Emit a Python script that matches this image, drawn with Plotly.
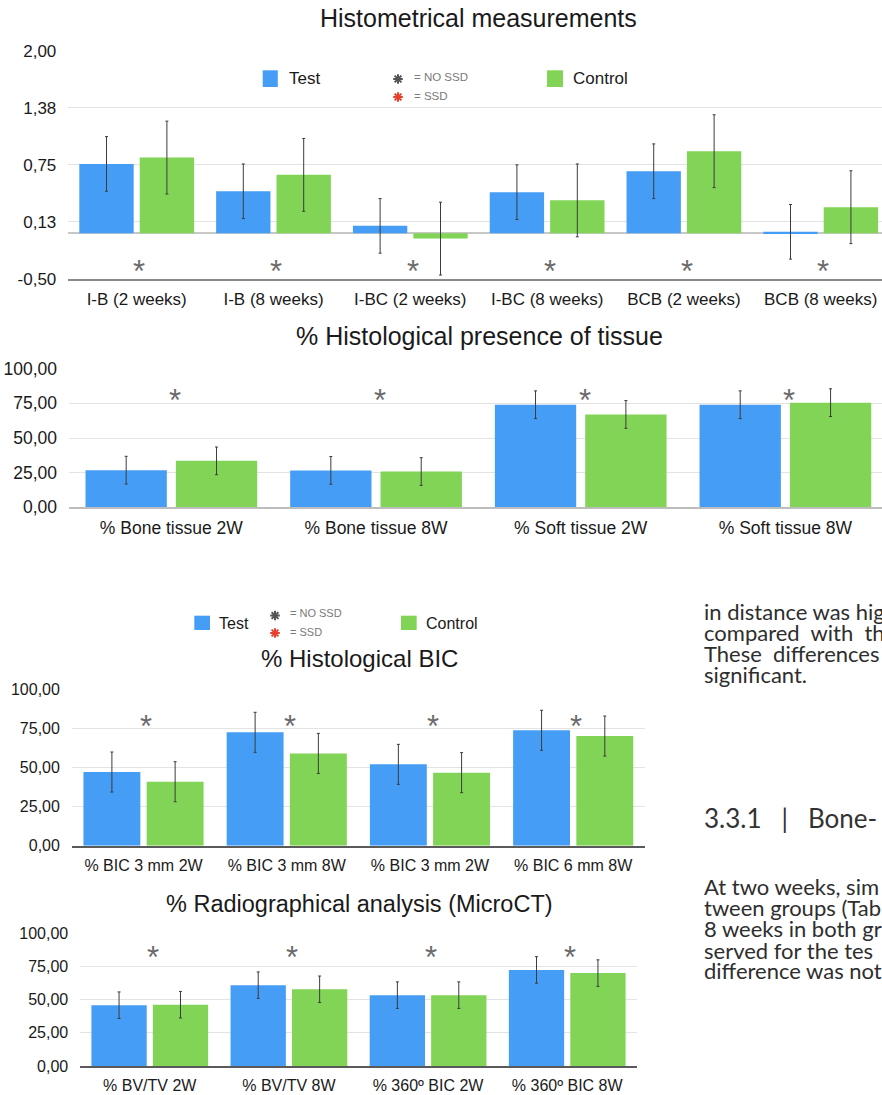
import plotly.graph_objects as go

W, H = 882, 1095

# ---------------- data ----------------
cats1 = ["I-B (2 weeks)", "I-B (8 weeks)", "I-BC (2 weeks)", "I-BC (8 weeks)", "BCB (2 weeks)", "BCB (8 weeks)"]
test1 = [0.76, 0.46, 0.08, 0.45, 0.68, 0.015]
ctrl1 = [0.83, 0.64, -0.06, 0.36, 0.90, 0.285]
test1_err = [0.30, 0.30, 0.30, 0.30, 0.30, 0.30]
ctrl1_err = [0.40, 0.40, 0.40, 0.40, 0.40, 0.40]
ticks1 = [-0.5, 0.125, 0.75, 1.375, 2.0]
ticktext1 = ["-0,50", "0,13", "0,75", "1,38", "2,00"]

cats2 = ["% Bone tissue 2W", "% Bone tissue 8W", "% Soft tissue 2W", "% Soft tissue 8W"]
test2 = [26.8, 26.6, 74.0, 74.0]
ctrl2 = [33.5, 25.8, 67.0, 75.5]
test2_err = [10, 10, 10, 10]
ctrl2_err = [10, 10, 10, 10]

cats3 = ["% BIC 3 mm 2W", "% BIC 3 mm 8W", "% BIC 3 mm 2W", "% BIC 6 mm 8W"]
test3 = [47.1, 72.5, 52.0, 73.8]
ctrl3 = [40.9, 59.0, 46.7, 70.1]
test3_err = [12.8, 12.8, 12.8, 12.8]
ctrl3_err = [12.8, 12.8, 12.8, 12.8]

cats4 = ["% BV/TV 2W", "% BV/TV 8W", "% 360\u00ba BIC 2W", "% 360\u00ba BIC 8W"]
test4 = [45.8, 60.9, 53.4, 72.4]
ctrl4 = [46.2, 57.8, 53.4, 70.0]
test4_err = [10, 10, 10, 10]
ctrl4_err = [10, 10, 10, 10]

ticks_pct = [0, 25, 50, 75, 100]
ticktext_pct = ["0,00", "25,00", "50,00", "75,00", "100,00"]

body_lines = ["in distance was hig",
              "compared\u00a0 with\u00a0 th",
              "These\u00a0 differences",
              "significant."]
heading = "3.3.1\u00a0\u00a0 |\u00a0\u00a0 Bone-"
body_lines2 = ["At two weeks, sim",
               "tween groups (Tabl",
               "8 weeks in both gr",
               "served for the tes",
               "difference was not"]

# ---------------- style ----------------
BLUE = "#469df6"
GREEN = "#81d455"
FONT = "Liberation Sans, Arial, Helvetica, sans-serif"
GRID = "#e3e3e3"


def fx(x):
    return x / W


def fy(y):
    return 1 - y / H


fig = go.Figure()

panels = [
    ("", cats1, test1, ctrl1, test1_err, ctrl1_err, (68.3, 882), (278.7, 51.0), (-0.5, 5.448), (-0.5, 2.0), ticks1, ticktext1, 17, "#8a8a8a"),
    ("2", cats2, test2, ctrl2, test2_err, ctrl2_err, (69.0, 882), (507.3, 368.7), (-0.5, 3.472), (0, 100), ticks_pct, ticktext_pct, 17.5, "#bdbdbd"),
    ("3", cats3, test3, ctrl3, test3_err, ctrl3_err, (71.9, 644.8), (845.7, 689.3), (-0.5, 3.5), (0, 100), ticks_pct, ticktext_pct, 16, "#5a5a5a"),
    ("4", cats4, test4, ctrl4, test4_err, ctrl4_err, (80.2, 636.8), (1066.0, 933.3), (-0.5, 3.5), (0, 100), ticks_pct, ticktext_pct, 16, "#5a5a5a"),
]

layout_axes = {}
for (sfx, cats, t, c, te, ce, xd, yd, xr, yr, tv, tt, fs, lc) in panels:
    xs = list(range(len(cats)))
    xa, ya = "x" + sfx, "y" + sfx
    fig.add_trace(go.Bar(x=xs, y=t, marker=dict(color=BLUE, line=dict(width=0)), xaxis=xa, yaxis=ya,
                         name="Test", showlegend=False,
                         error_y=dict(type="data", array=te, color="#3c3c3c", thickness=1, width=1.5)))
    fig.add_trace(go.Bar(x=xs, y=c, marker=dict(color=GREEN, line=dict(width=0)), xaxis=xa, yaxis=ya,
                         name="Control", showlegend=False,
                         error_y=dict(type="data", array=ce, color="#3c3c3c", thickness=1, width=1.5)))
    layout_axes["xaxis" + sfx] = dict(domain=[fx(xd[0]), fx(xd[1])], range=list(xr), anchor=ya,
                                      tickvals=xs, ticktext=cats, showgrid=False, zeroline=False,
                                      showline=True, linecolor=lc, linewidth=1.5, ticks="",
                                      tickfont=dict(family=FONT, size=fs, color="#1a1a1a"),
                                      ticklabelstandoff=4, automargin=False, fixedrange=True)
    layout_axes["yaxis" + sfx] = dict(domain=[fy(yd[0]), fy(yd[1])], range=list(yr), anchor=xa,
                                      tickvals=tv, ticktext=tt, showgrid=True, gridcolor=GRID, gridwidth=1,
                                      zeroline=(sfx == ""), zerolinecolor="#c8c8c8", zerolinewidth=1.5,
                                      showline=False, ticks="",
                                      tickfont=dict(family=FONT, size=fs, color="#1a1a1a"),
                                      ticklabelstandoff=11, automargin=False, fixedrange=True)

fig.update_layout(**layout_axes)

annotations = []
shapes = []


def text(x, y, s, size, color="#1a1a1a", xanchor="center", family=FONT, yshift=0):
    annotations.append(dict(x=fx(x), y=fy(y), xref="paper", yref="paper", text=s, showarrow=False,
                            xanchor=xanchor, yanchor="middle", yshift=yshift,
                            font=dict(family=family, size=size, color=color)))


# titles
text(478.9, 18.5, "Histometrical measurements", 25)
text(479.0, 336.0, "% Histological presence of tissue", 25)
text(359.2, 658.5, "% Histological BIC", 24)
text(359.2, 903.5, "% Radiographical analysis (MicroCT)", 23.5)

# significance asterisks above/below each pair
ast_specs = [("", 6, -0.344), ("2", 4, 82.1), ("3", 4, 80.8), ("4", 4, 86.9)]
for sfx, n, yv in ast_specs:
    for i in range(n):
        annotations.append(dict(x=i + 0.02, y=yv, xref="x" + sfx, yref="y" + sfx, text="*", showarrow=False,
                                xanchor="center", yanchor="middle", yshift=-7,
                                font=dict(family=FONT, size=31, color="#6b6b6b")))


def legend(sq_blue, sq_green, test_x, ctrl_x, ty, ast_x, ast_y1, ast_y2, lbl_x, lbl_y1, lbl_y2, fs, small):
    for (x0, x1, y0, y1), col in ((sq_blue, BLUE), (sq_green, GREEN)):
        shapes.append(dict(type="rect", xref="paper", yref="paper", x0=fx(x0), x1=fx(x1), y0=fy(y1), y1=fy(y0),
                           fillcolor=col, line=dict(width=0)))
    text(test_x, ty, "Test", fs, xanchor="left")
    text(ctrl_x, ty, "Control", fs, xanchor="left")
    fig.add_trace(go.Scatter(x=[fx(ast_x), fx(ast_x)], y=[fy(ast_y1), fy(ast_y2)], xaxis="x5", yaxis="y5",
                             mode="markers", showlegend=False, hoverinfo="skip",
                             marker=dict(symbol="asterisk-open", size=8, color=["#555555", "#e5412d"],
                                         line=dict(width=2))))
    text(lbl_x, lbl_y1, "= NO SSD", small, color="#7a7a7a", xanchor="left")
    text(lbl_x, lbl_y2, "= SSD", small, color="#7a7a7a", xanchor="left")


legend((262.7, 277.8, 70.3, 87.0), (547.0, 563.0, 70.3, 87.0), 286.5, 571.0, 78.5,
       398.0, 79.0, 97.0, 411.5, 77.0, 96.0, 17, 11.5)
legend((194.3, 210.0, 615.7, 630.0), (401.0, 416.7, 615.7, 630.0), 217.0, 424.0, 623.0,
       275.0, 615.5, 633.0, 288.0, 613.3, 631.7, 16, 11)

# overlay axis in paper units for legend symbols
fig.update_layout(
    xaxis5=dict(domain=[0, 1], range=[0, 1], visible=False, anchor="y5", fixedrange=True),
    yaxis5=dict(domain=[0, 1], range=[0, 1], visible=False, anchor="x5", fixedrange=True),
)

# body text on the right
BODY = "Lato, 'Noto Sans', sans-serif"
for s, y in zip(body_lines, [611.7, 632.3, 653.3, 674.0]):
    text(701.5, y, s, 22, color="#2e2e2e", xanchor="left", family=BODY)
text(701.5, 818.3, heading, 26, color="#333333", xanchor="left", family=BODY)
for s, y in zip(body_lines2, [886.7, 907.7, 928.3, 950.0, 970.0]):
    text(701.5, y, s, 22, color="#2e2e2e", xanchor="left", family=BODY)

fig.update_layout(
    width=W, height=H, margin=dict(l=0, r=0, t=0, b=0, pad=0),
    paper_bgcolor="white", plot_bgcolor="rgba(0,0,0,0)",
    barmode="group", bargap=0.117, bargroupgap=0.1,
    showlegend=False, annotations=annotations, shapes=shapes,
)

fig.write_html("out.html", config={"displayModeBar": False},
               post_script="document.body.style.margin='0';document.body.style.padding='0';")
